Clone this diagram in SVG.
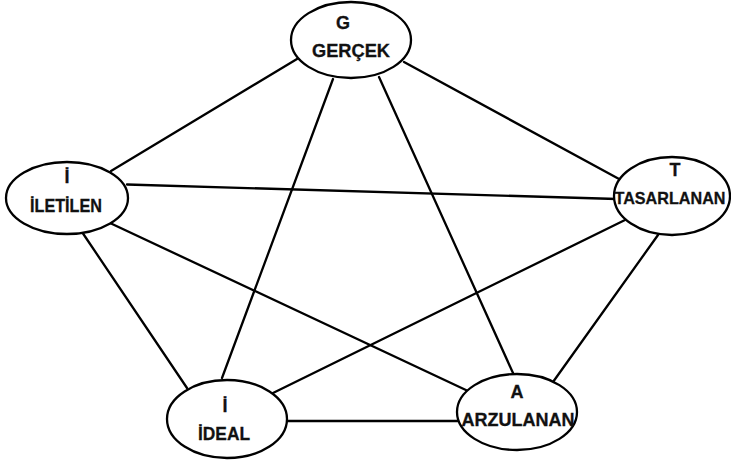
<svg xmlns="http://www.w3.org/2000/svg" width="731" height="465" viewBox="0 0 731 465">
  <style>
    .edge { stroke: #000; stroke-width: 2.3; fill: none; stroke-linecap: round; }
    .node ellipse { fill: #fff; stroke: #000; stroke-width: 2.3; }
    .node text { font-family: "Liberation Sans", Arial, sans-serif; font-weight: bold; font-size: 18px; fill: #111; stroke: #111; stroke-width: 0.3; text-anchor: middle; }
    .node text.long { font-size: 17px; }
  </style>
  <rect width="731" height="465" fill="#fff"/>

  <!-- connectors: every node is linked to every other -->
  <g id="connectors">
    <line class="edge" x1="297" y1="59" x2="111" y2="171"/>
    <line class="edge" x1="404" y1="62" x2="620" y2="179.5"/>
    <line class="edge" x1="333" y1="79" x2="222" y2="378"/>
    <line class="edge" x1="379" y1="77" x2="513" y2="373"/>
    <line class="edge" x1="127" y1="184.5" x2="617" y2="199"/>
    <line class="edge" x1="110" y1="223" x2="468" y2="391"/>
    <line class="edge" x1="82" y1="232" x2="187" y2="388"/>
    <line class="edge" x1="625" y1="220" x2="273" y2="393"/>
    <line class="edge" x1="658" y1="235" x2="553" y2="382"/>
    <line class="edge" x1="288" y1="421" x2="458" y2="421"/>
  </g>

  <g id="node-gercek" class="node">
    <ellipse cx="351" cy="40" rx="60" ry="38"/>
    <text x="343" y="29">G</text>
    <text x="351" y="57" textLength="78" lengthAdjust="spacingAndGlyphs">GERÇEK</text>
  </g>

  <g id="node-iletilen" class="node">
    <ellipse cx="67" cy="198" rx="61" ry="36"/>
    <text x="67" y="183">İ</text>
    <text x="66" y="212" textLength="72" lengthAdjust="spacingAndGlyphs">İLETİLEN</text>
  </g>

  <g id="node-tasarlanan" class="node">
    <ellipse cx="672" cy="196" rx="58" ry="39"/>
    <text x="675" y="176">T</text>
    <text class="long" x="670" y="204" textLength="111" lengthAdjust="spacingAndGlyphs">TASARLANAN</text>
  </g>

  <g id="node-ideal" class="node">
    <ellipse cx="227" cy="419" rx="60" ry="39"/>
    <text x="225" y="412">İ</text>
    <text x="224" y="440" textLength="52" lengthAdjust="spacingAndGlyphs">İDEAL</text>
  </g>

  <g id="node-arzulanan" class="node">
    <ellipse cx="517" cy="412" rx="60" ry="38"/>
    <text x="517" y="398">A</text>
    <text x="518" y="426" textLength="113" lengthAdjust="spacingAndGlyphs">ARZULANAN</text>
  </g>
</svg>
